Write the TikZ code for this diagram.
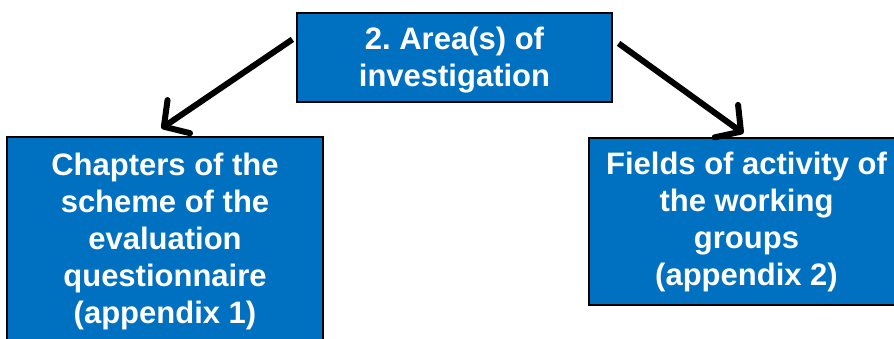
\documentclass[tikz,border=0pt]{standalone}
\usepackage{fontspec}
\setmainfont{Liberation Sans}
\usetikzlibrary{arrows.meta}
\definecolor{boxblue}{HTML}{0070C0}
\frenchspacing
\tikzset{
  bluebox/.style={draw=black, line width=1.2pt, fill=boxblue, text=white,
    font=\bfseries\fontsize{31}{37}\selectfont, align=center, inner sep=0pt,
    minimum width=315pt, text depth=6.5pt},
  link/.style={line width=6pt,
    -{Straight Barb[length=18pt,width=40pt,line cap=round,line join=round]}}
}
\begin{document}
\begin{tikzpicture}[x=1pt,y=-1pt]
\useasboundingbox (0,0) rectangle (894,338);
\clip (0,0) rectangle (894,338);
% boxes
\node[bluebox, minimum height=89pt, text height=60pt, text depth=1.5pt] (area) at (454.5,57.5)
  {2. Area(s) of\\investigation};
\node[bluebox, minimum width=316pt, minimum height=207.5pt, text height=171pt]
  (chapters) at (165,240.75)
  {Chapters of the\\scheme of the\\evaluation\\questionnaire\\(appendix 1)};
\node[bluebox, minimum height=167pt, text height=134pt] (fields) at (746.5,221.5)
  {Fields of activity of\\the working\\groups\\(appendix 2)};
% arrows
\draw[link] ([shift={(-4,27)}]area.north west) -- ([shift={(155,-8)}]chapters.north west);
\draw[link] ([shift={(6,31)}]area.north east) -- ([shift={(155,-4)}]fields.north west);
\end{tikzpicture}
\end{document}
